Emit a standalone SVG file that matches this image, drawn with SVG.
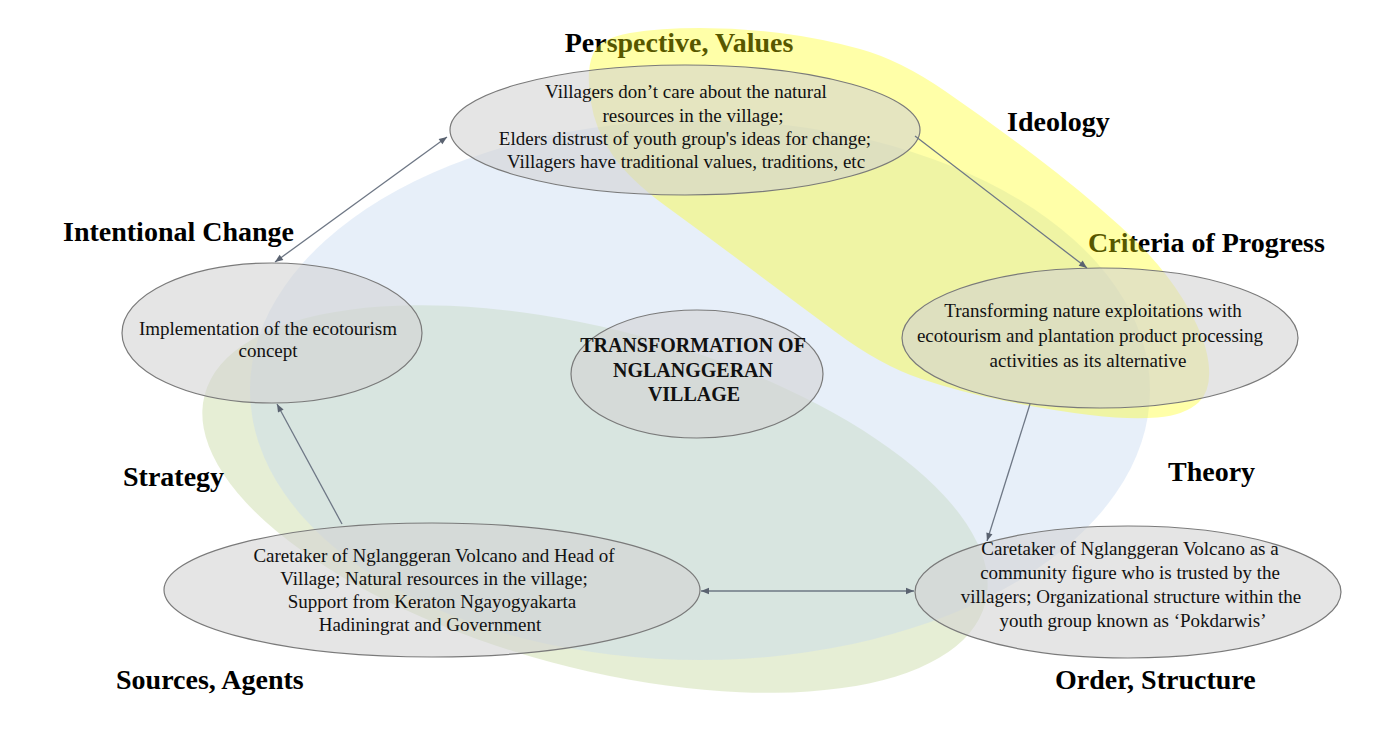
<svg xmlns="http://www.w3.org/2000/svg" width="1398" height="733" viewBox="0 0 1398 733">
<style>
.lbl{font-family:"Liberation Serif","Times New Roman",serif;font-weight:bold;font-size:28px;fill:#000}
.txt{font-family:"Liberation Serif","Times New Roman",serif;font-size:19px;fill:#111;text-anchor:middle}
.ctr{font-family:"Liberation Serif","Times New Roman",serif;font-size:20px;font-weight:bold;fill:#111;text-anchor:middle}
.node{fill:#d2d2d2;fill-opacity:0.58;stroke:#7a7a7a;stroke-width:1.2}
.con{stroke:#6e7785;stroke-width:1.3;fill:none}
</style>
<defs>
<marker id="ah" viewBox="0 0 10 10" refX="10" refY="5" markerWidth="9" markerHeight="8" markerUnits="userSpaceOnUse" orient="auto-start-reverse"><path d="M0,1 L10,5 L0,9 z" fill="#5a6270"/></marker>
</defs>
<rect width="1398" height="733" fill="#ffffff"/>
<g id="backgrounds">
<ellipse cx="595" cy="499" rx="404" ry="169" transform="rotate(15 595 499)" fill="#c3d69b" fill-opacity="0.42"/>
<ellipse cx="700" cy="390" rx="450" ry="270" fill="#c6d9f1" fill-opacity="0.42"/>
</g>
<g id="labels">
<text class="lbl" x="679" y="52" text-anchor="middle">Perspective, Values</text>
<text class="lbl" x="1007" y="131">Ideology</text>
<text class="lbl" x="63" y="241">Intentional Change</text>
<text class="lbl" x="1088" y="252">Criteria of Progress</text>
<text class="lbl" x="123" y="486">Strategy</text>
<text class="lbl" x="1168" y="481">Theory</text>
<text class="lbl" x="116" y="689">Sources, Agents</text>
<text class="lbl" x="1055" y="689">Order, Structure</text>
</g>
<g id="ideology-band">
<path fill="#ffff00" fill-opacity="0.34" d="M590.5,100 Q586,70 593,54 Q600,38 630,33 Q660,28 700,28 Q740,28 780,33 Q820,38 860,49 Q900,60 945,91 Q990,122 1035,156 Q1080,190 1120,226 Q1160,262 1182.5,298.5 Q1205,335 1208.5,362.5 Q1212,390 1198.5,402.5 Q1185,415 1157.5,417.5 Q1130,420 1090,415 Q1050,410 1005,401 Q960,392 920,378.5 Q880,365 835,331.5 Q790,298 745,264.5 Q700,231 665,205.5 Q630,180 612.5,155 Q595,130 590.5,100 Z"/>
</g>
<g id="node-perspective">
<ellipse class="node" cx="685" cy="130" rx="235" ry="65"/>
<text class="txt" x="686" y="98">Villagers don’t care about the natural</text>
<text class="txt" x="693" y="122">resources in the village;</text>
<text class="txt" x="685" y="145">Elders distrust of youth group's ideas for change;</text>
<text class="txt" x="686" y="168">Villagers have traditional values, traditions, etc</text>
</g>
<g id="node-implementation">
<ellipse class="node" cx="272" cy="333" rx="150" ry="70"/>
<text class="txt" x="268" y="335">Implementation of the ecotourism</text>
<text class="txt" x="268" y="357">concept</text>
</g>
<g id="node-center">
<ellipse class="node" cx="697" cy="374" rx="126" ry="64"/>
<text class="ctr" x="693" y="352">TRANSFORMATION OF</text>
<text class="ctr" x="693" y="377">NGLANGGERAN</text>
<text class="ctr" x="694" y="401">VILLAGE</text>
</g>
<g id="node-criteria">
<ellipse class="node" cx="1100" cy="338" rx="198" ry="70"/>
<text class="txt" x="1093" y="317">Transforming nature exploitations with</text>
<text class="txt" x="1090" y="342">ecotourism and plantation product processing</text>
<text class="txt" x="1088" y="367">activities as its alternative</text>
</g>
<g id="node-sources">
<ellipse class="node" cx="432" cy="590" rx="268" ry="67"/>
<text class="txt" x="434" y="562">Caretaker of Nglanggeran Volcano and Head of</text>
<text class="txt" x="434" y="585">Village; Natural resources in the village;</text>
<text class="txt" x="432" y="608">Support from Keraton Ngayogyakarta</text>
<text class="txt" x="430" y="631">Hadiningrat and Government</text>
</g>
<g id="node-order">
<ellipse class="node" cx="1128" cy="592" rx="213" ry="66"/>
<text class="txt" x="1130" y="555">Caretaker of Nglanggeran Volcano as a</text>
<text class="txt" x="1130" y="579">community figure who is trusted by the</text>
<text class="txt" x="1131" y="603">villagers; Organizational structure within the</text>
<text class="txt" x="1133" y="627">youth group known as ‘Pokdarwis’</text>
</g>
<g id="connectors">
<line class="con" x1="447" y1="137" x2="275" y2="262" marker-start="url(#ah)" marker-end="url(#ah)"/>
<line class="con" x1="915" y1="136" x2="1087" y2="268" marker-end="url(#ah)"/>
<line class="con" x1="1030" y1="404" x2="987" y2="541" marker-end="url(#ah)"/>
<line class="con" x1="342" y1="524" x2="277" y2="404" marker-end="url(#ah)"/>
<line class="con" x1="701" y1="591" x2="914" y2="591" marker-start="url(#ah)" marker-end="url(#ah)"/>
</g>
</svg>
